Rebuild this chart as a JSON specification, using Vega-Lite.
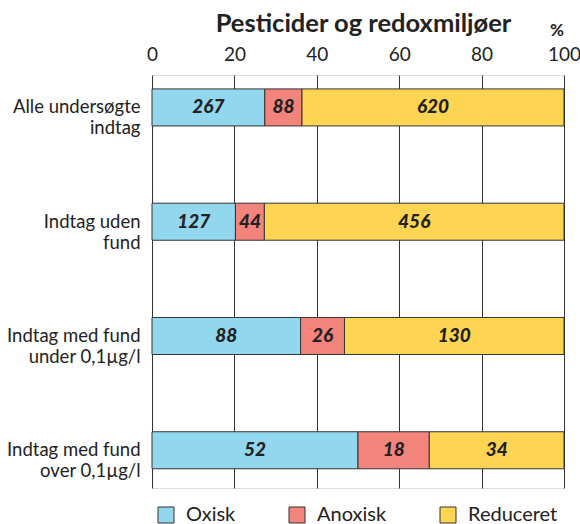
{
  "$schema": "https://vega.github.io/schema/vega-lite/v6.json",
  "width": 412,
  "height": 413,
  "autosize": {"type": "none"},
  "padding": {"left": 152, "top": 75, "right": 16, "bottom": 36},
  "background": "white",
  "title": {"text": "%", "anchor": "end", "frame": "group", "font": "Lato", "fontSize": 17, "fontWeight": "bold", "color": "#222", "offset": -29},
  "data": {"values": [
    {"cat": "Alle undersøgte|indtag", "type": "Oxisk", "o": 1, "n": 267},
    {"cat": "Alle undersøgte|indtag", "type": "Anoxisk", "o": 2, "n": 88},
    {"cat": "Alle undersøgte|indtag", "type": "Reduceret", "o": 3, "n": 620},
    {"cat": "Indtag uden|fund", "type": "Oxisk", "o": 1, "n": 127},
    {"cat": "Indtag uden|fund", "type": "Anoxisk", "o": 2, "n": 44},
    {"cat": "Indtag uden|fund", "type": "Reduceret", "o": 3, "n": 456},
    {"cat": "Indtag med fund|under 0,1µg/l", "type": "Oxisk", "o": 1, "n": 88},
    {"cat": "Indtag med fund|under 0,1µg/l", "type": "Anoxisk", "o": 2, "n": 26},
    {"cat": "Indtag med fund|under 0,1µg/l", "type": "Reduceret", "o": 3, "n": 130},
    {"cat": "Indtag med fund|over 0,1µg/l", "type": "Oxisk", "o": 1, "n": 52},
    {"cat": "Indtag med fund|over 0,1µg/l", "type": "Anoxisk", "o": 2, "n": 18},
    {"cat": "Indtag med fund|over 0,1µg/l", "type": "Reduceret", "o": 3, "n": 34}
  ]},
  "transform": [
    {"stack": "n", "groupby": ["cat"], "sort": [{"field": "o", "order": "ascending"}], "offset": "normalize", "as": ["p0", "p1"]},
    {"calculate": "(datum.p0 + datum.p1) / 2", "as": "pm"}
  ],
  "encoding": {
    "y": {
      "field": "cat", "type": "nominal",
      "sort": ["Alle undersøgte|indtag", "Indtag uden|fund", "Indtag med fund|under 0,1µg/l", "Indtag med fund|over 0,1µg/l"],
      "scale": {"paddingInner": 0.676, "paddingOuter": 0.145, "align": 0.42},
      "axis": {"title": null, "domain": false, "ticks": false, "grid": false, "labelExpr": "split(datum.label, '|')", "labelFont": "Lato", "labelFontSize": 18.5, "labelLineHeight": 21, "labelColor": "#222", "labelPadding": 12}
    }
  },
  "layer": [
    {
      "mark": {"type": "bar", "stroke": "#333", "strokeWidth": 1},
      "encoding": {
        "x": {"field": "p0", "type": "quantitative", "scale": {"domain": [0, 1], "nice": false},
          "axis": {"orient": "top", "values": [0, 0.2, 0.4, 0.6, 0.8, 1], "labelExpr": "format(datum.value * 100, 'd')", "grid": true, "gridColor": "#333", "gridOpacity": 1, "gridWidth": 1, "domain": false, "ticks": false, "labelFont": "Lato", "labelFontSize": 19, "labelColor": "#222", "labelPadding": 11, "labelFlush": false,
            "title": "Pesticider og redoxmiljøer", "titleFont": "Lato", "titleFontSize": 25.5, "titleFontWeight": "bold", "titleColor": "#222", "titleX": 211, "titleY": -52, "titleBaseline": "middle", "titleAlign": "center", "titleAnchor": null}},
        "x2": {"field": "p1"},
        "color": {"field": "type", "type": "nominal",
          "scale": {"domain": ["Oxisk", "Anoxisk", "Reduceret"], "range": ["#92d7ee", "#f3847c", "#fed553"]},
          "legend": {"title": null, "orient": "none", "direction": "horizontal", "legendX": 4, "legendY": 430, "symbolType": "square", "symbolSize": 256, "symbolStrokeColor": "#333", "symbolStrokeWidth": 1, "symbolOpacity": 1, "labelFont": "Lato", "labelFontSize": 20, "labelColor": "#222", "labelOffset": 10, "columnPadding": 51, "padding": 0}}
      }
    },
    {
      "mark": {"type": "text", "font": "Lato", "fontSize": 19, "fontWeight": 900, "fontStyle": "italic", "color": "#222"},
      "encoding": {
        "x": {"field": "pm", "type": "quantitative"},
        "text": {"field": "n", "type": "quantitative"}
      }
    }
  ]
}
